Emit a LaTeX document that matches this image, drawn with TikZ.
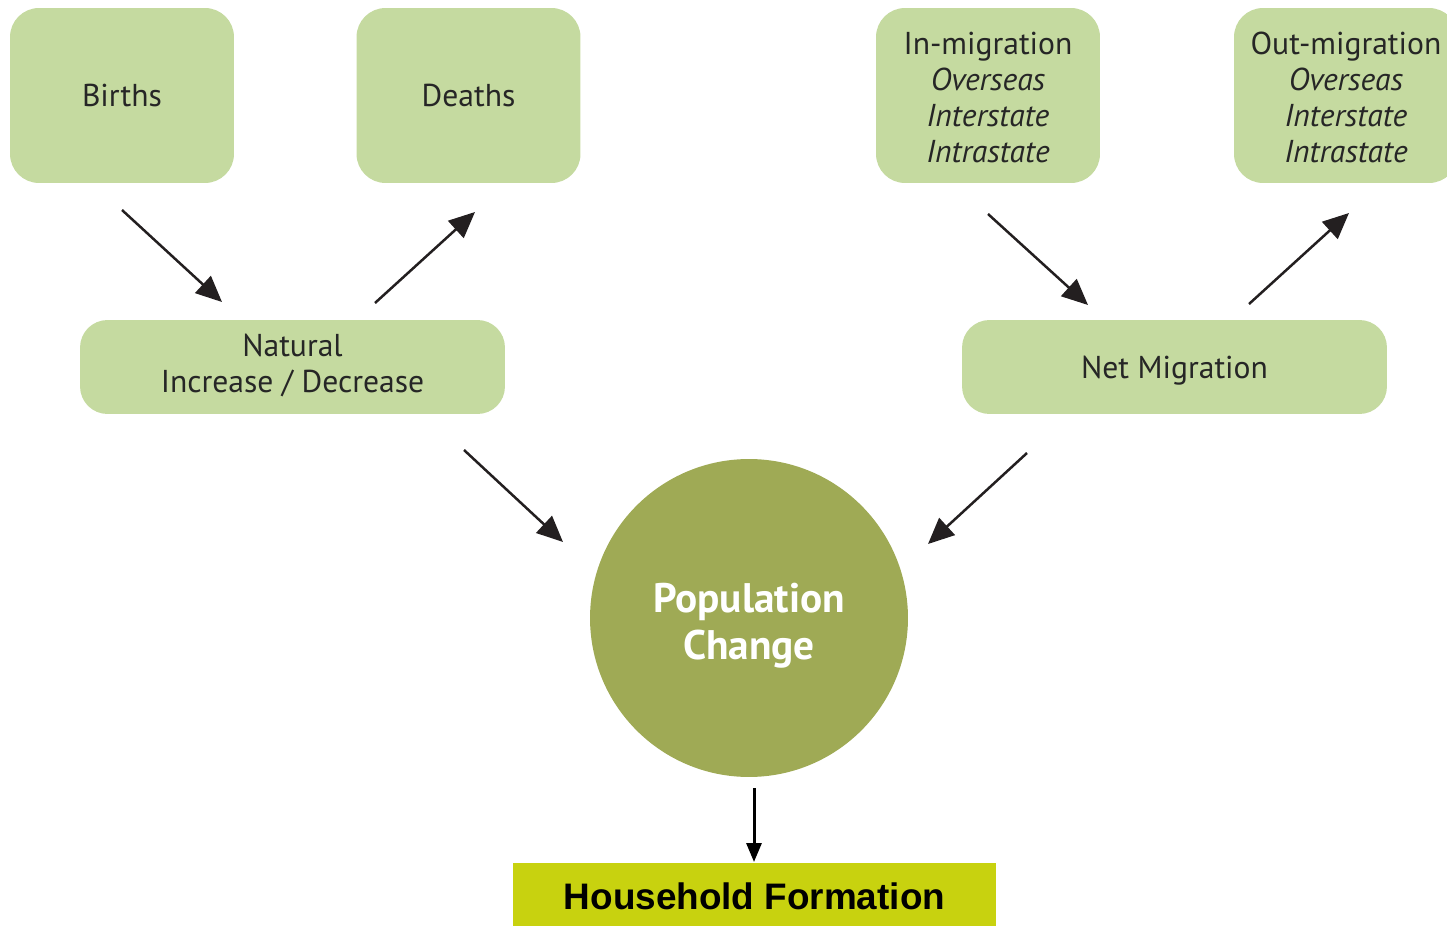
\documentclass[tikz,border=0pt]{standalone}
\usepackage{fontspec}
\setmainfont{PT Sans}
\newfontfamily\arialfont{Liberation Sans}
\usetikzlibrary{arrows.meta}
\definecolor{boxgreen}{HTML}{C5DAA0}
\definecolor{circgreen}{HTML}{9FAA55}
\definecolor{hhyellow}{HTML}{C8D20F}
\definecolor{arrowgray}{HTML}{231F20}
\tikzset{
  flowbox/.style={fill=boxgreen, rounded corners=0.58cm, minimum width=4.48cm,
    minimum height=3.5cm, align=center, text=black!85, text depth=0.2cm,
    font=\fontsize{18}{20.5}\selectfont},
  widebox/.style={flowbox, minimum width=8.5cm, minimum height=1.88cm,
    rounded corners=0.55cm},
  arr/.style={draw=arrowgray, line width=0.05cm,
    -{Triangle[length=0.52cm,width=0.46cm]}},
  downarr/.style={draw=black, line width=0.06cm,
    -{Triangle[length=0.38cm,width=0.3cm]}}
}

\begin{document}
\begin{tikzpicture}[x=0.02cm, y=-0.02cm]
  \useasboundingbox (0,0) rectangle (1447,926);

  % Cajas superiores
  \node[flowbox, text height=0.66cm] (births) at (122,95.5) {Births};
  \node[flowbox, text height=0.66cm] (deaths) at (468.5,95.5) {Deaths};
  \node[flowbox, text height=2.9cm] (inmig) at (988,95.5)
    {In-migration\\\textit{Overseas}\\\textit{Interstate}\\\textit{Intrastate}};
  \node[flowbox, text height=2.9cm] (outmig) at (1346,95.5)
    {Out-migration\\\textit{Overseas}\\\textit{Interstate}\\\textit{Intrastate}};

  % Cajas intermedias
  \node[widebox, text height=1.24cm] (natural) at (292.5,367)
    {Natural\\Increase / Decrease};
  \node[widebox, text height=0.64cm] (netmig) at (1174.5,367) {Net Migration};

  % Circulo central
  \node[circle, fill=circgreen, minimum size=6.36cm, text=white, align=center,
    text height=1.88cm, text depth=0.2cm,
    font=\bfseries\fontsize{23.5}{27}\selectfont] (popchange) at (749,618)
    {Population\\Change};

  % Caja final
  \node[fill=hhyellow, minimum width=9.66cm, minimum height=1.32cm,
    font=\arialfont\bfseries\fontsize{21}{25}\selectfont] (household)
    at (754.5,896) {Household Formation};

  % Extremos de las flechas
  \coordinate (births-out) at (122,210);
  \coordinate (natural-in) at (222,302);
  \coordinate (natural-out) at (375,303);
  \coordinate (deaths-in) at (475,212);
  \coordinate (inmig-out) at (988,214);
  \coordinate (netmig-in) at (1088,305);
  \coordinate (netmig-out) at (1249,304);
  \coordinate (outmig-in) at (1349,213);
  \coordinate (natural-down) at (464,450);
  \coordinate (popchange-left) at (563,542);
  \coordinate (netmig-down) at (1027,453);
  \coordinate (popchange-right) at (928,544);
  \coordinate (popchange-down) at (754,788);
  \coordinate (household-in) at (754,862);

  % Flechas
  \foreach \s/\e in {births-out/natural-in, natural-out/deaths-in,
      inmig-out/netmig-in, netmig-out/outmig-in,
      natural-down/popchange-left, netmig-down/popchange-right}
    \draw[arr] (\s) -- (\e);
  \draw[downarr] (popchange-down) -- (household-in);
\end{tikzpicture}
\end{document}
